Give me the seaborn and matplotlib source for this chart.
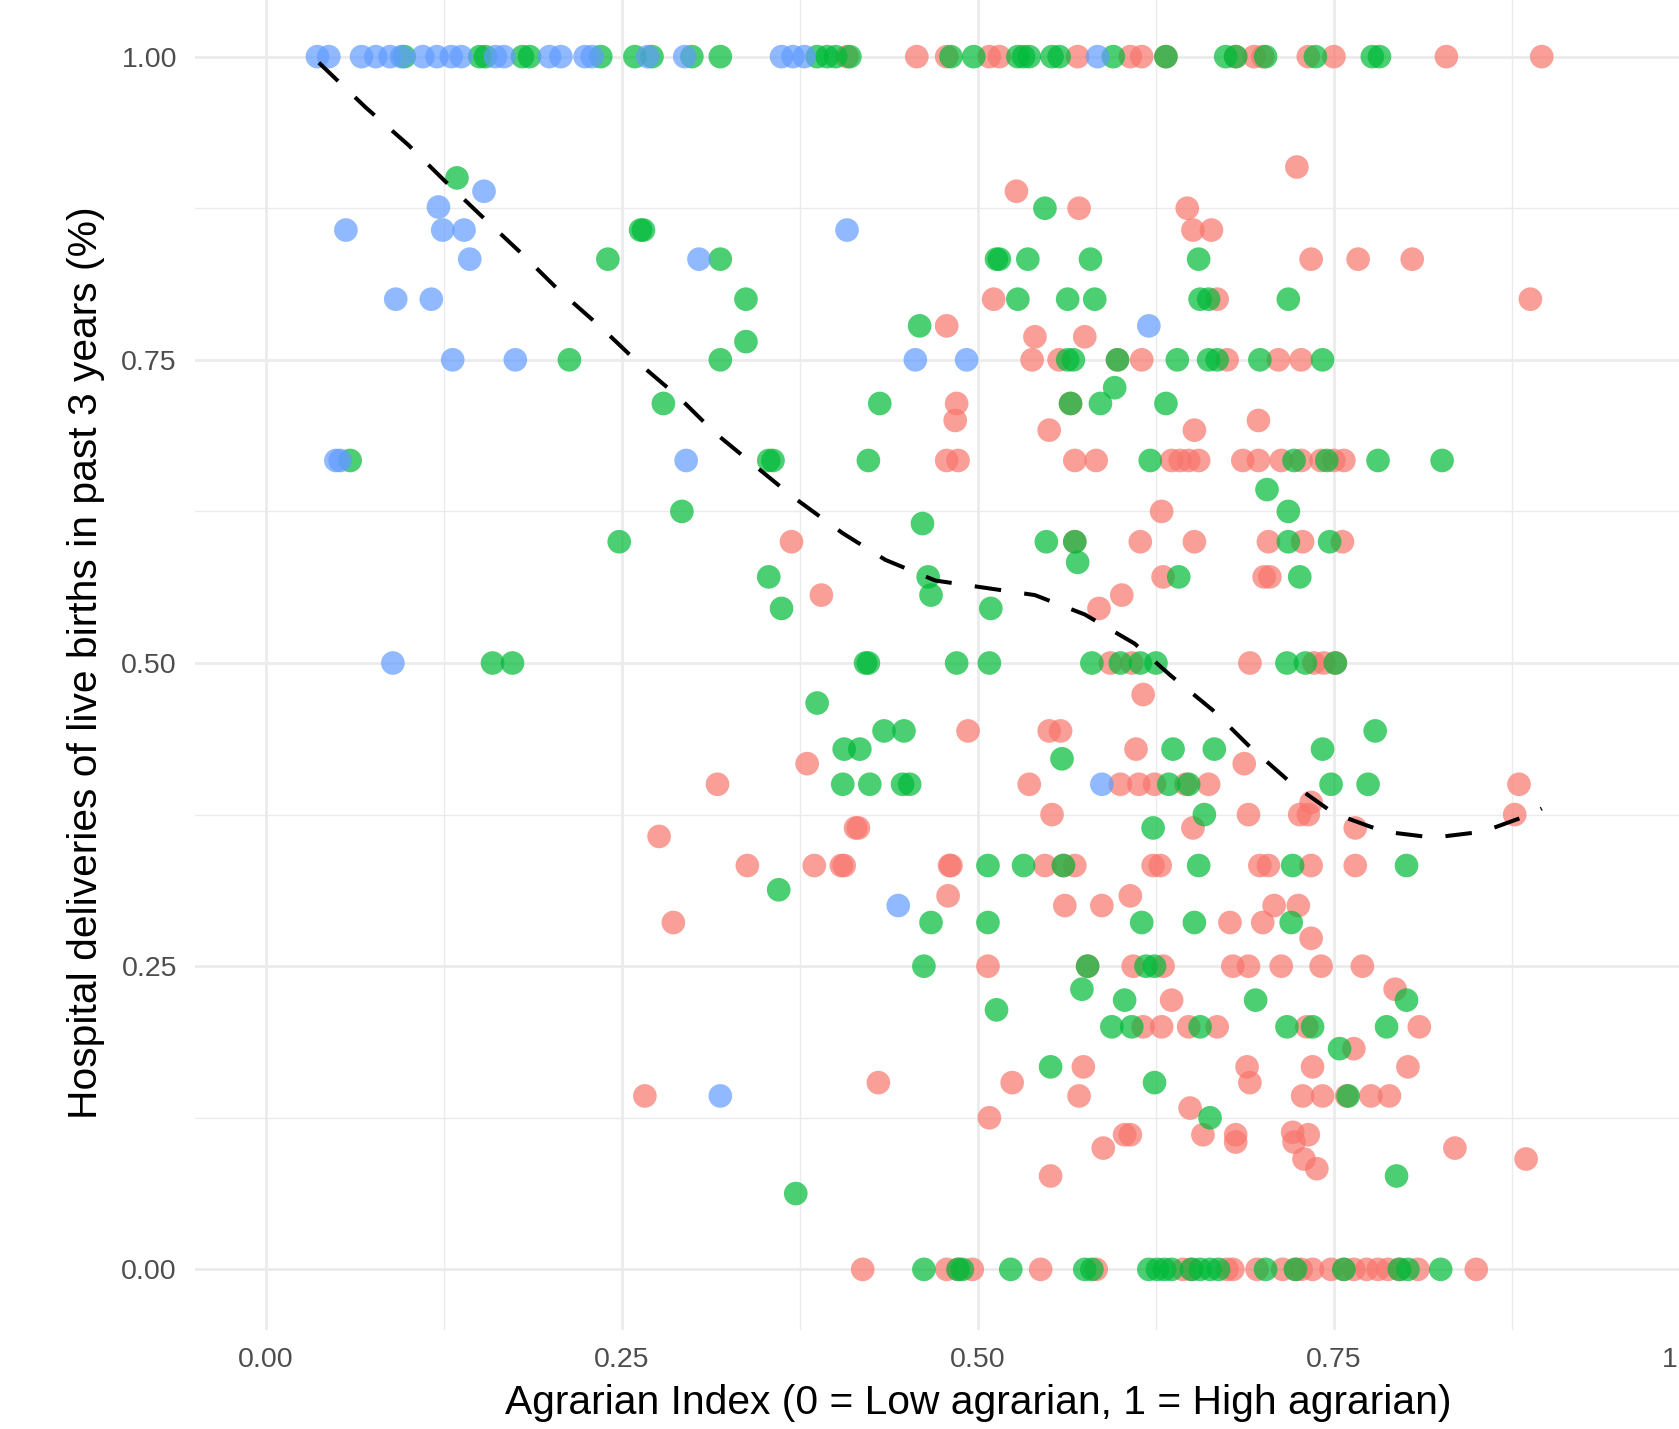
import numpy as np
import pandas as pd
import matplotlib
matplotlib.use("Agg")
import matplotlib.pyplot as plt
import seaborn as sns
from matplotlib.ticker import MultipleLocator, FixedLocator

# ---------------- data ----------------
group_names = ["Group A", "Group B", "Group C"]
group_colors = ["#F8766D", "#00BA38", "#619CFF"]

red_points = [
    # y = 1.00
    (0.408, 1), (0.457, 1), (0.478, 1), (0.508, 1), (0.515, 1), (0.570, 1), (0.607, 1), (0.615, 1),
    (0.632, 1), (0.681, 1), (0.694, 1), (0.700, 1), (0.732, 1), (0.750, 1), (0.829, 1), (0.896, 1),
    # upper
    (0.724, 0.909), (0.527, 0.889), (0.571, 0.875), (0.647, 0.875), (0.651, 0.857), (0.664, 0.857),
    (0.734, 0.833), (0.767, 0.833), (0.805, 0.833),
    (0.511, 0.8), (0.668, 0.8), (0.888, 0.8),
    (0.478, 0.778), (0.540, 0.769), (0.575, 0.769),
    (0.538, 0.75), (0.557, 0.75), (0.598, 0.75), (0.615, 0.75), (0.675, 0.75), (0.711, 0.75), (0.727, 0.75),
    (0.485, 0.714), (0.565, 0.714), (0.484, 0.7), (0.697, 0.7), (0.550, 0.692), (0.652, 0.692),
    (0.478, 0.667), (0.486, 0.667), (0.568, 0.667), (0.583, 0.667), (0.636, 0.667), (0.642, 0.667),
    (0.648, 0.667), (0.655, 0.667), (0.686, 0.667), (0.697, 0.667), (0.713, 0.667), (0.727, 0.667),
    (0.741, 0.667), (0.750, 0.667), (0.757, 0.667),
    (0.629, 0.625),
    (0.369, 0.6), (0.568, 0.6), (0.614, 0.6), (0.652, 0.6), (0.704, 0.6), (0.728, 0.6), (0.756, 0.6),
    (0.630, 0.571), (0.701, 0.571), (0.705, 0.571), (0.390, 0.556), (0.601, 0.556), (0.585, 0.545),
    # middle
    (0.593, 0.5), (0.608, 0.5), (0.691, 0.5), (0.736, 0.5), (0.743, 0.5), (0.751, 0.5),
    (0.616, 0.474), (0.493, 0.444), (0.550, 0.444), (0.558, 0.444), (0.611, 0.429),
    (0.380, 0.417), (0.687, 0.417),
    (0.317, 0.4), (0.536, 0.4), (0.600, 0.4), (0.613, 0.4), (0.624, 0.4), (0.646, 0.4), (0.662, 0.4), (0.880, 0.4),
    (0.734, 0.385), (0.552, 0.375), (0.690, 0.375), (0.726, 0.375), (0.732, 0.375), (0.877, 0.375),
    (0.414, 0.364), (0.416, 0.364), (0.651, 0.364), (0.765, 0.364), (0.276, 0.357),
    (0.338, 0.333), (0.385, 0.333), (0.404, 0.333), (0.406, 0.333), (0.480, 0.333), (0.481, 0.333),
    (0.547, 0.333), (0.560, 0.333), (0.568, 0.333), (0.623, 0.333), (0.628, 0.333), (0.698, 0.333),
    (0.704, 0.333), (0.734, 0.333), (0.765, 0.333),
    (0.479, 0.308), (0.607, 0.308), (0.561, 0.3), (0.587, 0.3), (0.708, 0.3), (0.725, 0.3),
    (0.286, 0.286), (0.677, 0.286), (0.700, 0.286), (0.734, 0.273),
    # lower
    (0.507, 0.25), (0.577, 0.25), (0.609, 0.25), (0.630, 0.25), (0.679, 0.25), (0.690, 0.25),
    (0.713, 0.25), (0.741, 0.25), (0.770, 0.25),
    (0.793, 0.231), (0.636, 0.222),
    (0.616, 0.2), (0.629, 0.2), (0.648, 0.2), (0.668, 0.2), (0.731, 0.2), (0.810, 0.2),
    (0.764, 0.182), (0.574, 0.167), (0.689, 0.167), (0.735, 0.167), (0.802, 0.167),
    (0.430, 0.154), (0.524, 0.154), (0.691, 0.154),
    (0.266, 0.143), (0.571, 0.143), (0.728, 0.143), (0.742, 0.143), (0.759, 0.143), (0.776, 0.143), (0.789, 0.143),
    (0.649, 0.133), (0.508, 0.125),
    (0.603, 0.111), (0.607, 0.111), (0.658, 0.111), (0.681, 0.111), (0.721, 0.113), (0.732, 0.111),
    (0.681, 0.105), (0.722, 0.105), (0.588, 0.1), (0.835, 0.1),
    (0.729, 0.091), (0.885, 0.091), (0.738, 0.083), (0.551, 0.077),
    # y = 0
    (0.419, 0), (0.478, 0), (0.486, 0), (0.496, 0), (0.544, 0), (0.583, 0), (0.644, 0), (0.650, 0),
    (0.675, 0), (0.679, 0), (0.696, 0), (0.714, 0), (0.723, 0), (0.727, 0), (0.735, 0), (0.748, 0),
    (0.757, 0), (0.764, 0), (0.773, 0), (0.781, 0), (0.788, 0), (0.796, 0), (0.809, 0), (0.850, 0),
]

green_points = [
    # y = 1.00
    (0.097, 1), (0.150, 1), (0.154, 1), (0.180, 1), (0.185, 1), (0.235, 1), (0.259, 1), (0.271, 1),
    (0.299, 1), (0.319, 1), (0.387, 1), (0.394, 1), (0.400, 1), (0.410, 1), (0.481, 1), (0.497, 1),
    (0.528, 1), (0.532, 1), (0.536, 1), (0.552, 1), (0.557, 1), (0.595, 1), (0.632, 1), (0.674, 1),
    (0.681, 1), (0.702, 1), (0.737, 1), (0.777, 1), (0.782, 1),
    # upper
    (0.134, 0.9), (0.547, 0.875), (0.263, 0.857), (0.265, 0.857),
    (0.240, 0.833), (0.319, 0.833), (0.513, 0.833), (0.515, 0.833), (0.535, 0.833), (0.579, 0.833), (0.655, 0.833),
    (0.337, 0.8), (0.528, 0.8), (0.563, 0.8), (0.582, 0.8), (0.656, 0.8), (0.662, 0.8), (0.718, 0.8),
    (0.459, 0.778), (0.337, 0.765),
    (0.213, 0.75), (0.319, 0.75), (0.563, 0.75), (0.567, 0.75), (0.598, 0.75), (0.640, 0.75),
    (0.662, 0.75), (0.668, 0.75), (0.698, 0.75), (0.742, 0.75),
    (0.596, 0.727), (0.279, 0.714), (0.431, 0.714), (0.565, 0.714), (0.586, 0.714), (0.632, 0.714),
    (0.059, 0.667), (0.353, 0.667), (0.356, 0.667), (0.423, 0.667), (0.621, 0.667), (0.722, 0.667),
    (0.745, 0.667), (0.781, 0.667), (0.826, 0.667),
    (0.703, 0.643), (0.292, 0.625), (0.718, 0.625), (0.461, 0.615),
    (0.248, 0.6), (0.548, 0.6), (0.568, 0.6), (0.718, 0.6), (0.747, 0.6),
    (0.570, 0.583), (0.353, 0.571), (0.465, 0.571), (0.641, 0.571), (0.726, 0.571),
    (0.467, 0.556), (0.362, 0.545), (0.509, 0.545),
    # middle
    (0.159, 0.5), (0.173, 0.5), (0.421, 0.5), (0.423, 0.5), (0.485, 0.5), (0.508, 0.5), (0.580, 0.5),
    (0.600, 0.5), (0.614, 0.5), (0.625, 0.5), (0.717, 0.5), (0.730, 0.5), (0.751, 0.5),
    (0.387, 0.467), (0.434, 0.444), (0.448, 0.444), (0.779, 0.444),
    (0.406, 0.429), (0.417, 0.429), (0.637, 0.429), (0.666, 0.429), (0.742, 0.429), (0.559, 0.421),
    (0.405, 0.4), (0.424, 0.4), (0.447, 0.4), (0.452, 0.4), (0.634, 0.4), (0.648, 0.4), (0.748, 0.4), (0.774, 0.4),
    (0.659, 0.375), (0.623, 0.364),
    (0.507, 0.333), (0.532, 0.333), (0.560, 0.333), (0.655, 0.333), (0.721, 0.333), (0.801, 0.333),
    (0.360, 0.313), (0.467, 0.286), (0.507, 0.286), (0.615, 0.286), (0.652, 0.286), (0.720, 0.286),
    # lower
    (0.462, 0.25), (0.577, 0.25), (0.618, 0.25), (0.624, 0.25),
    (0.573, 0.231), (0.603, 0.222), (0.695, 0.222), (0.801, 0.222), (0.513, 0.214),
    (0.594, 0.2), (0.608, 0.2), (0.656, 0.2), (0.717, 0.2), (0.735, 0.2), (0.787, 0.2),
    (0.754, 0.182), (0.551, 0.167), (0.624, 0.154), (0.760, 0.143), (0.663, 0.125),
    (0.794, 0.077), (0.372, 0.0625),
    # y = 0
    (0.462, 0), (0.486, 0), (0.489, 0), (0.523, 0), (0.575, 0), (0.580, 0), (0.620, 0), (0.626, 0),
    (0.631, 0), (0.636, 0), (0.650, 0), (0.656, 0), (0.663, 0), (0.669, 0), (0.702, 0), (0.723, 0),
    (0.757, 0), (0.796, 0), (0.802, 0), (0.825, 0),
]

blue_points = [
    (0.036, 1), (0.044, 1), (0.067, 1), (0.077, 1), (0.087, 1), (0.095, 1), (0.110, 1), (0.120, 1),
    (0.130, 1), (0.137, 1), (0.161, 1), (0.167, 1), (0.199, 1), (0.207, 1), (0.224, 1), (0.229, 1),
    (0.268, 1), (0.294, 1), (0.362, 1), (0.370, 1), (0.378, 1), (0.584, 1),
    (0.153, 0.889), (0.121, 0.876), (0.056, 0.857), (0.124, 0.857), (0.139, 0.857), (0.408, 0.857),
    (0.143, 0.833), (0.304, 0.833), (0.091, 0.8), (0.116, 0.8), (0.620, 0.778),
    (0.131, 0.75), (0.175, 0.75), (0.456, 0.75), (0.492, 0.75),
    (0.049, 0.667), (0.052, 0.667), (0.295, 0.667), (0.089, 0.5),
    (0.587, 0.4), (0.444, 0.3), (0.319, 0.143),
]

# loess-smoothed trend (dashed line)
smooth_x = [0.037, 0.07, 0.10, 0.125, 0.15, 0.18, 0.205, 0.235, 0.26, 0.29, 0.315, 0.345, 0.37,
            0.405, 0.435, 0.47, 0.505, 0.54, 0.575, 0.61, 0.635, 0.665, 0.69, 0.72, 0.75, 0.785,
            0.82, 0.855, 0.89, 0.896]
smooth_y = [0.995, 0.958, 0.927, 0.898, 0.870, 0.837, 0.808, 0.777, 0.749, 0.719, 0.690, 0.661, 0.637,
            0.607, 0.585, 0.568, 0.562, 0.556, 0.540, 0.516, 0.490, 0.461, 0.432, 0.401, 0.376, 0.361,
            0.356, 0.361, 0.376, 0.380]

x_ticks = [0.0, 0.25, 0.5, 0.75, 1.0]
x_tick_labels = ["0.00", "0.25", "0.50", "0.75", "1.00"]
y_ticks = [0.0, 0.25, 0.5, 0.75, 1.0]
y_tick_labels = ["0.00", "0.25", "0.50", "0.75", "1.00"]

x_title = "Agrarian Index (0 = Low agrarian, 1 = High agrarian)"
y_title = "Hospital deliveries of live births in past 3 years (%)"

# ---------------- build frame ----------------
frames = []
for name, pts in zip(group_names, [red_points, green_points, blue_points]):
    arr = np.array(pts, dtype=float)
    frames.append(pd.DataFrame({"x": arr[:, 0], "y": arr[:, 1], "group": name}))
df = pd.concat(frames, ignore_index=True)
smooth_df = pd.DataFrame({"x": smooth_x, "y": smooth_y})

# ---------------- plot ----------------
sns.set_theme(style="white")
plt.rcParams["font.family"] = ["Liberation Sans", "DejaVu Sans"]

W, H, DPI = 1679, 1429, 100
fig = plt.figure(figsize=(W / DPI, H / DPI), dpi=DPI, facecolor="white")

left_px, right_px, top_px, bottom_px = 195, 1761, -4, 1330
ax = fig.add_axes([left_px / W, (H - bottom_px) / H,
                   (right_px - left_px) / W, (bottom_px - top_px) / H])
ax.set_facecolor("white")

sns.scatterplot(data=df, x="x", y="y", hue="group", hue_order=group_names,
                palette=dict(zip(group_names, group_colors)),
                s=290, alpha=0.7, linewidth=0, legend=False, ax=ax, zorder=3)

sns.lineplot(data=smooth_df, x="x", y="y", color="black", linewidth=2.9,
             estimator=None, sort=False, ax=ax, zorder=4,
             linestyle=(0, (6.6, 5.8)), dash_capstyle="butt")

ax.set_xlim(-0.05, 1.05)
ax.set_ylim(-0.05, 1.05)
ax.xaxis.set_major_locator(FixedLocator(x_ticks))
ax.yaxis.set_major_locator(FixedLocator(y_ticks))
ax.set_xticklabels(x_tick_labels)
ax.set_yticklabels(y_tick_labels)
ax.xaxis.set_minor_locator(MultipleLocator(0.125))
ax.yaxis.set_minor_locator(MultipleLocator(0.125))

ax.grid(which="major", color="#EBEBEB", linewidth=2.0, zorder=0)
ax.grid(which="minor", color="#EBEBEB", linewidth=1.0, zorder=0)
ax.set_axisbelow(True)
for sp in ax.spines.values():
    sp.set_visible(False)

ax.tick_params(axis="both", which="both", length=0)
ax.tick_params(axis="x", which="major", labelsize=20.5, labelcolor="#4D4D4D", pad=12)
ax.tick_params(axis="y", which="major", labelsize=20.5, labelcolor="#4D4D4D", pad=13)

ax.set_xlabel(x_title, fontsize=29.3, color="black", labelpad=8)
ax.set_ylabel(y_title, fontsize=29.3, color="black", labelpad=12)

fig.savefig("out.png", dpi=DPI, facecolor="white")
